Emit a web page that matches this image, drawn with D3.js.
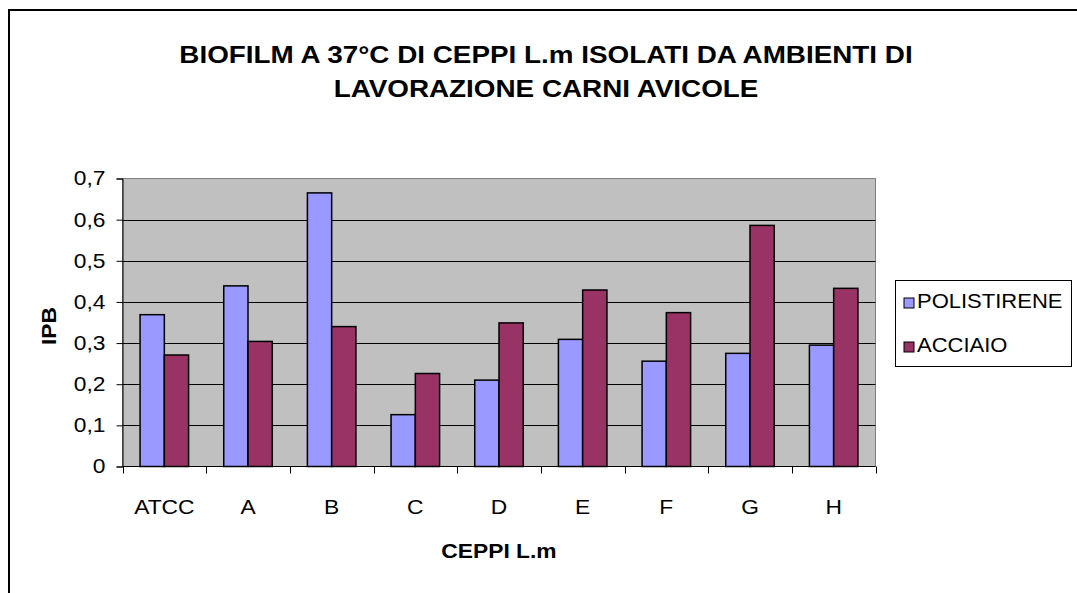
<!DOCTYPE html>
<html>
<head>
<meta charset="utf-8">
<script src="https://cdnjs.cloudflare.com/ajax/libs/d3/7.8.5/d3.min.js"></script>
<style>
  body { margin: 0; background: #fff; }
  text { font-family: "Liberation Sans", Arial, sans-serif; fill: #000; }
</style>
</head>
<body>
<script>
var width = 1077,
    height = 593,
    stretch = 1.14; // the original text is a little wider than Arial

// data
var categories = ["ATCC", "A", "B", "C", "D", "E", "F", "G", "H"];
var seriesNames = ["POLISTIRENE", "ACCIAIO"];
var polistirene = [0.369, 0.439, 0.665, 0.126, 0.210, 0.309, 0.256, 0.275, 0.295];
var acciaio = [0.271, 0.304, 0.340, 0.226, 0.349, 0.429, 0.374, 0.586, 0.433];
var yTicks = [0, 0.1, 0.2, 0.3, 0.4, 0.5, 0.6, 0.7];
var colors = ["#9999FF", "#993366"];
var titleLines = ["BIOFILM A 37°C DI CEPPI L.m ISOLATI DA AMBIENTI DI", "LAVORAZIONE CARNI AVICOLE"];

var plot = { left: 122.5, right: 875.5, top: 178.5, bottom: 466.5 };

function place(x, y, sx) {
  return "translate(" + x + "," + y + ") scale(" + (sx || stretch) + ",1)";
}

var svg = d3.select("body").append("svg")
    .attr("width", width)
    .attr("height", height);

// outer chart border (runs off the page right and bottom)
svg.append("path")
    .attr("d", "M9,593 L9,10 L1077,10")
    .attr("fill", "none")
    .attr("stroke", "#000")
    .attr("stroke-width", 2);

var x = d3.scaleBand()
    .domain(categories)
    .range([plot.left, plot.right]);

var barW = x.bandwidth() * 0.29;

var y = d3.scaleLinear()
    .domain([0, 0.7])
    .range([plot.bottom, plot.top]);

// plot background
svg.append("rect")
    .attr("x", plot.left)
    .attr("y", plot.top)
    .attr("width", plot.right - plot.left)
    .attr("height", plot.bottom - plot.top)
    .attr("fill", "#C0C0C0")
    .attr("stroke", "#808080")
    .attr("stroke-width", 1);

// gridlines
svg.selectAll(".grid")
    .data(yTicks.filter(function(d) { return d > 0 && d < 0.7; }))
    .enter()
    .append("line")
    .attr("class", "grid")
    .attr("x1", plot.left)
    .attr("x2", plot.right)
    .attr("y1", function(d) { return Math.round(y(d)) + 0.5; })
    .attr("y2", function(d) { return Math.round(y(d)) + 0.5; })
    .attr("stroke", "#000")
    .attr("stroke-width", 1);

// bars
var rows = categories.map(function(c, i) {
  return { cat: c, vals: [polistirene[i], acciaio[i]] };
});

var groups = svg.selectAll(".group")
    .data(rows)
    .enter()
    .append("g")
    .attr("class", "group");

groups.selectAll("rect")
    .data(function(d) {
      return d.vals.map(function(v, j) { return { cat: d.cat, v: v, j: j }; });
    })
    .enter()
    .append("rect")
    .attr("x", function(d) {
      return x(d.cat) + x.bandwidth() / 2 - barW + d.j * barW;
    })
    .attr("y", function(d) { return y(d.v); })
    .attr("width", barW)
    .attr("height", function(d) { return y(0) - y(d.v); })
    .attr("fill", function(d) { return colors[d.j]; })
    .attr("stroke", "#000")
    .attr("stroke-width", 1.5);

// y axis
var yAxis = d3.axisLeft(y)
    .tickValues(yTicks)
    .tickSize(6)
    .tickPadding(17)
    .tickFormat(function(d) { return d === 0 ? "0" : d3.format(".1f")(d).replace(".", ","); });

var gy = svg.append("g")
    .attr("transform", "translate(" + plot.left + ",0)")
    .call(yAxis);
gy.select(".domain").attr("stroke", "#000");
gy.selectAll(".tick line").attr("stroke", "#000");
gy.selectAll("text")
    .attr("x", -17 / stretch)
    .attr("transform", "scale(" + stretch + ",1)")
    .style("font-family", "Liberation Sans, Arial, sans-serif")
    .style("font-size", "20px")
    .attr("fill", "#000");

// x axis: ticks at category boundaries
svg.append("line")
    .attr("x1", plot.left).attr("x2", plot.right)
    .attr("y1", plot.bottom).attr("y2", plot.bottom)
    .attr("stroke", "#000");

var boundaries = categories.map(function(c) { return x(c); }).concat([plot.right]);
svg.selectAll(".xtick")
    .data(boundaries)
    .enter()
    .append("line")
    .attr("class", "xtick")
    .attr("x1", function(d) { return Math.round(d) + 0.5; })
    .attr("x2", function(d) { return Math.round(d) + 0.5; })
    .attr("y1", plot.bottom)
    .attr("y2", plot.bottom + 7)
    .attr("stroke", "#000");

svg.selectAll(".xlabel")
    .data(categories)
    .enter()
    .append("text")
    .attr("class", "xlabel")
    .attr("transform", function(d) { return place(x(d) + x.bandwidth() / 2, 514); })
    .attr("text-anchor", "middle")
    .style("font-size", "20px")
    .text(function(d) { return d; });

// axis titles
svg.append("text")
    .attr("transform", place((plot.left + plot.right) / 2, 558))
    .attr("text-anchor", "middle")
    .style("font-size", "20px")
    .style("font-weight", "bold")
    .text("CEPPI L.m");

svg.append("text")
    .attr("transform", "translate(56,326) rotate(-90) scale(" + stretch + ",1)")
    .attr("text-anchor", "middle")
    .style("font-size", "20px")
    .style("font-weight", "bold")
    .text("IPB");

// title
svg.selectAll(".title")
    .data(titleLines)
    .enter()
    .append("text")
    .attr("class", "title")
    .attr("transform", function(d, i) { return place(546, 63 + i * 34, 1.16); })
    .attr("text-anchor", "middle")
    .style("font-size", "24px")
    .style("font-weight", "bold")
    .text(function(d) { return d; });

// legend
var legend = svg.append("g").attr("transform", "translate(895,280)");
legend.append("rect")
    .attr("x", 0.5).attr("y", 0.5)
    .attr("width", 176).attr("height", 86)
    .attr("fill", "#fff")
    .attr("stroke", "#000");

var items = legend.selectAll(".item")
    .data(seriesNames)
    .enter()
    .append("g")
    .attr("class", "item")
    .attr("transform", function(d, i) { return "translate(0," + (28 + i * 44) + ")"; });

items.append("rect")
    .attr("x", 9).attr("y", -10)
    .attr("width", 10).attr("height", 10)
    .attr("fill", function(d, i) { return colors[i]; })
    .attr("stroke", "#000")
    .attr("stroke-width", 1);

items.append("text")
    .attr("transform", place(22, 0, 1.1))
    .style("font-size", "20px")
    .text(function(d) { return d; });
</script>
</body>
</html>
